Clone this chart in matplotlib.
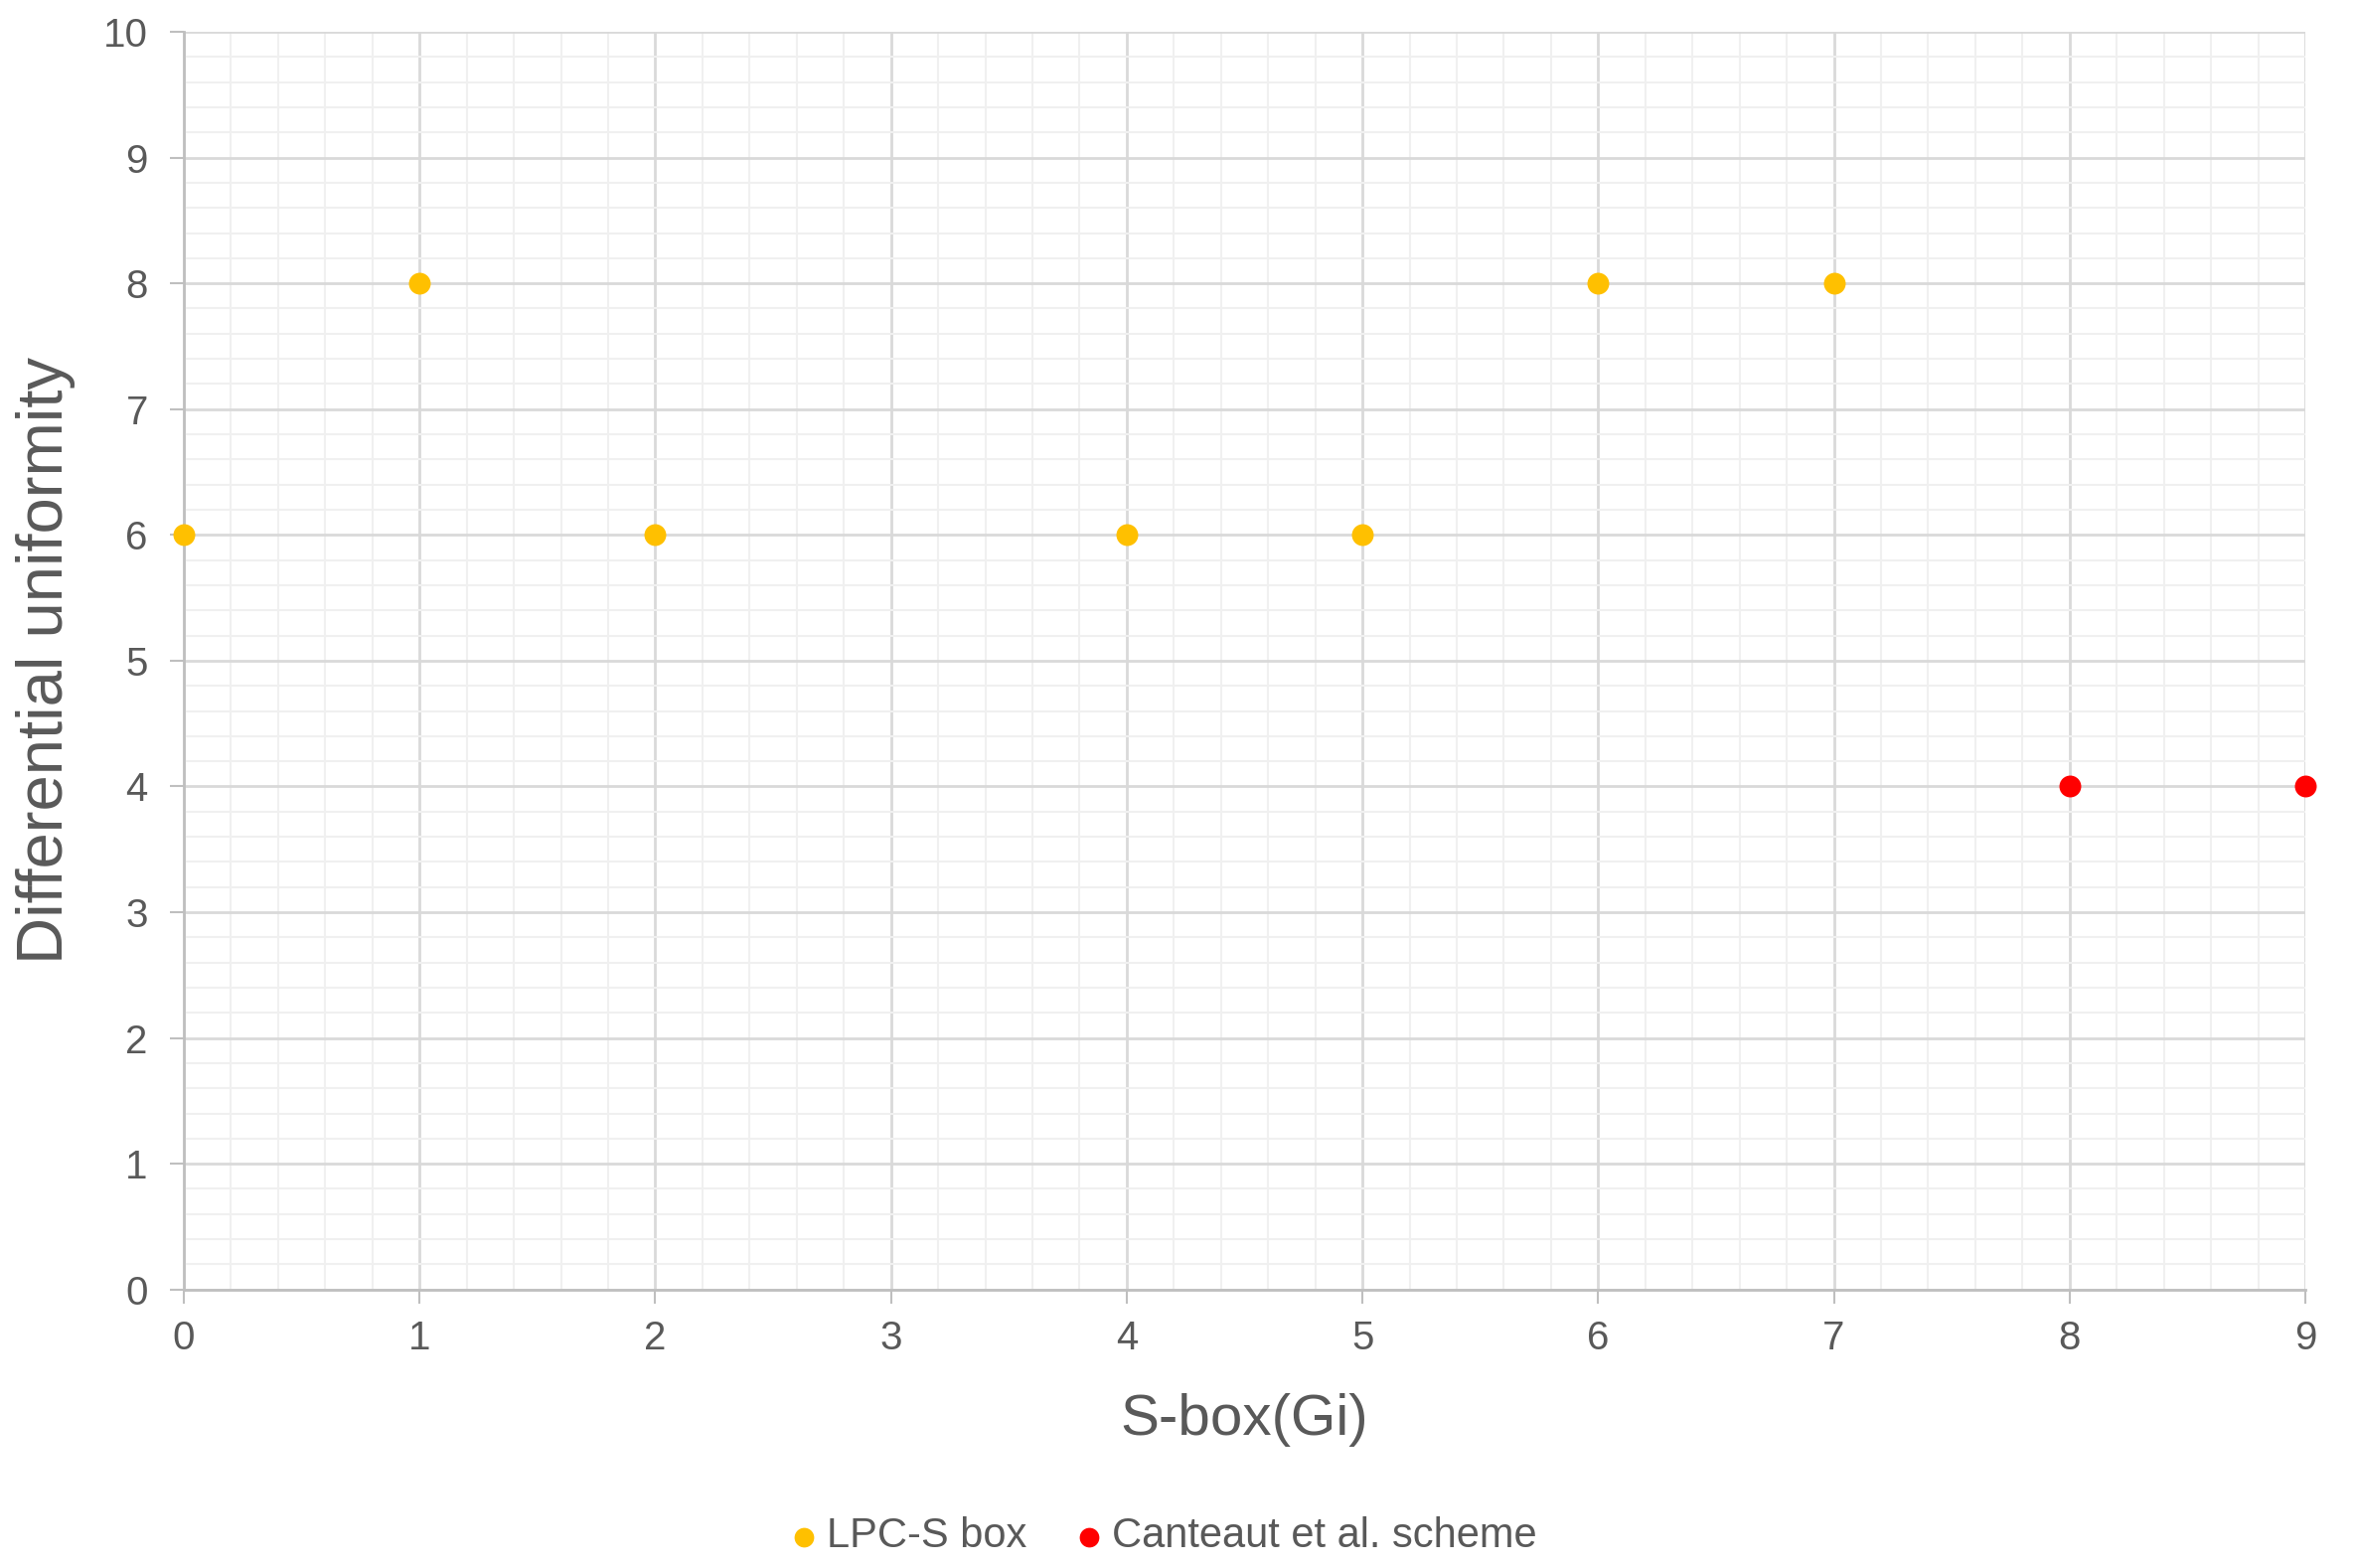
import matplotlib
matplotlib.use("Agg")
import matplotlib.pyplot as plt
from matplotlib.ticker import MultipleLocator

# data
lpc_x = [0, 1, 2, 4, 5, 6, 7]
lpc_y = [6, 8, 6, 6, 6, 8, 8]
cant_x = [8, 9]
cant_y = [4, 4]

plt.rcParams['font.family'] = ['Liberation Sans', 'DejaVu Sans']
txt = '#595959'

fig = plt.figure(figsize=(23.71, 15.78), dpi=100)
ax = fig.add_axes([0.078, 0.1776, 0.9005, 0.8021])

ax.set_xlim(0, 9)
ax.set_ylim(0, 10)
ax.xaxis.set_major_locator(MultipleLocator(1))
ax.yaxis.set_major_locator(MultipleLocator(1))
ax.xaxis.set_minor_locator(MultipleLocator(0.2))
ax.yaxis.set_minor_locator(MultipleLocator(0.2))

ax.grid(which='major', color='#d9d9d9', linewidth=2)
ax.grid(which='minor', color='#f0f0f0', linewidth=1.5)
ax.set_axisbelow(True)

for s in ['top', 'right']:
    ax.spines[s].set_visible(False)
for s in ['left', 'bottom']:
    ax.spines[s].set_color('#bfbfbf')
    ax.spines[s].set_linewidth(2)

ax.tick_params(which='major', length=10, width=1.5, color='#bfbfbf',
               labelsize=29, labelcolor=txt)
ax.tick_params(axis='y', which='major', pad=16)
ax.tick_params(axis='x', which='major', pad=12)
ax.tick_params(which='minor', length=0)

ax.scatter(lpc_x, lpc_y, s=250, color='#ffc000', zorder=3, clip_on=False,
           label='LPC-S box', linewidths=0)
ax.scatter(cant_x, cant_y, s=250, color='#ff0000', zorder=3, clip_on=False,
           label='Canteaut et al. scheme', linewidths=0)

ax.set_xlabel('S-box(Gi)', fontsize=42, color=txt, labelpad=26)
ax.set_ylabel('Differential uniformity', fontsize=47, color=txt, labelpad=20)

fig.legend(loc='center', bbox_to_anchor=(0.494, 0.02), ncol=2, frameon=False,
           fontsize=30, labelcolor=txt, handlelength=0.6, handletextpad=0.25,
           columnspacing=1.2, markerscale=0.9)

fig.savefig('out.png', dpi=100)
